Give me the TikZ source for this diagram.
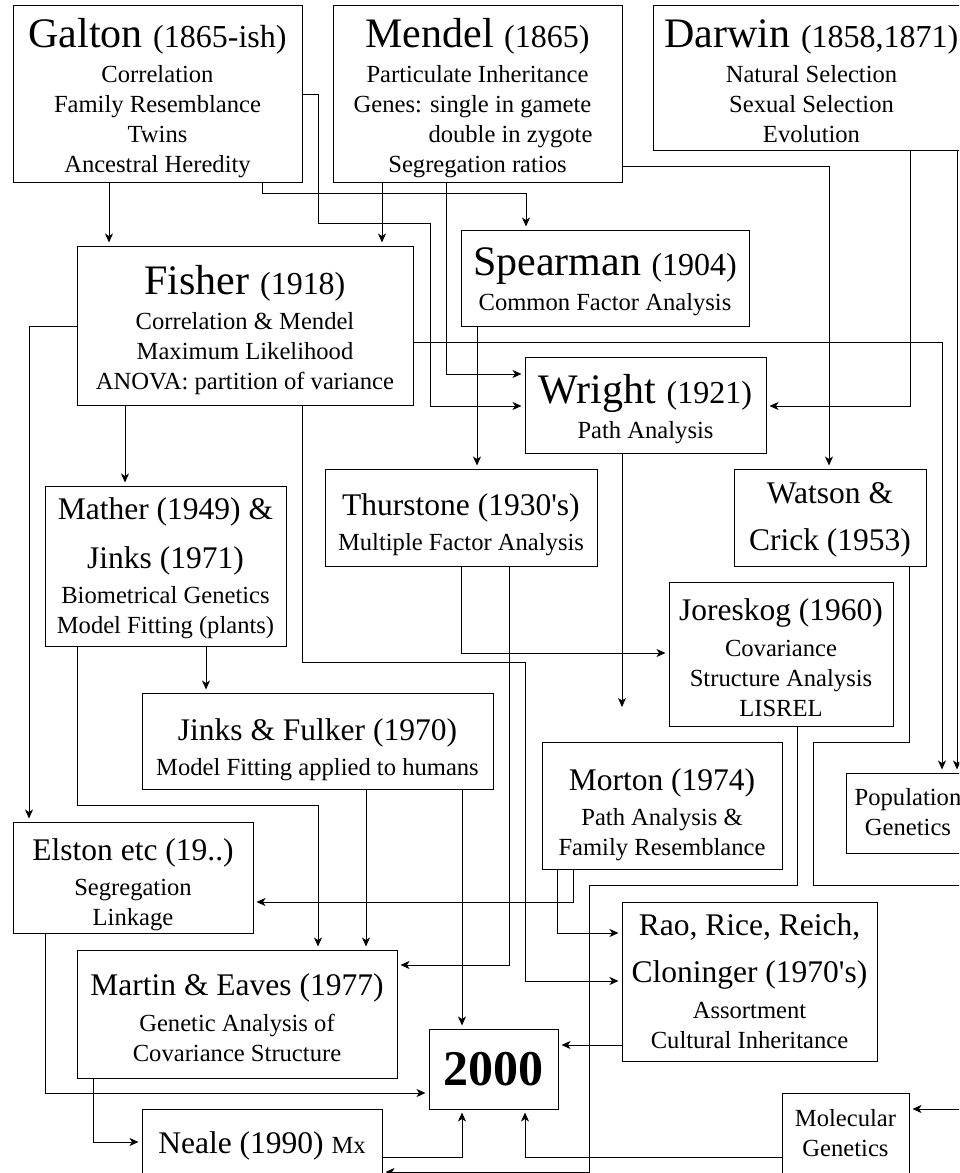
\documentclass[tikz,border=0pt]{standalone}
\usepackage{fontspec}
\setmainfont{Liberation Serif}[Ligatures=TeXOff]
\usetikzlibrary{arrows.meta,fit}
\newcommand\bigT{\fontsize{42}{42}\selectfont}
\newcommand\midT{\fontsize{31.5}{31.5}\selectfont}
\newcommand\yrT{\fontsize{32}{32}\selectfont}
\newcommand\bodyT{\fontsize{24.6}{30}\selectfont}
\newcommand\sk[1]{\noalign{\vskip#1}}
\newcommand\stk[1]{\vtop{\baselineskip=30pt\lineskip=0pt\lineskiplimit=-1000pt\halign{\hfil\bodyT##\hfil\cr#1\crcr}}}
\tikzset{
  box/.style={draw, line width=1pt, inner sep=0pt},
  txt/.style={inner sep=0pt, anchor=base},
  arr/.style={line width=1pt, -{Stealth[length=9pt,width=8pt,inset=2.5pt]}, shorten >=3pt}
}
\begin{document}
\begin{tikzpicture}[x=1pt,y=-1pt]
\useasboundingbox (0,0) rectangle (959,1173);
\fill[white] (0,0) rectangle (959,1173);
\clip (0,0) rectangle (959,1173);
% boxes
\node[box, fit={(13,5)(302,182)}] (galton) {};
\node[box, fit={(333,5)(622,182)}] (mendel) {};
\node[box, fit={(653,5)(970,150)}] (darwin) {};
\node[box, fit={(77,246)(413,405)}] (fisher) {};
\node[box, fit={(461,230)(749,326)}] (spearman) {};
\node[box, fit={(525,357)(766,453)}] (wright) {};
\node[box, fit={(325,469)(597,566)}] (thurstone) {};
\node[box, fit={(734,469)(926,566)}] (watson) {};
\node[box, fit={(45,486)(286,646)}] (mather) {};
\node[box, fit={(669,582)(893,726)}] (joreskog) {};
\node[box, fit={(142,693)(493,789)}] (jinks) {};
\node[box, fit={(542,742)(782,869)}] (morton) {};
\node[box, fit={(846,773)(970,853)}] (popgen) {};
\node[box, fit={(13,822)(253,933)}] (elston) {};
\node[box, fit={(77,950)(397,1078)}] (martin) {};
\node[box, fit={(622,902)(877,1061)}] (rao) {};
\node[box, fit={(429,1029)(558,1109)}] (yr2000) {};
\node[box, fit={(142,1109)(382,1200)}] (neale) {};
\node[box, fit={(782,1093)(909,1200)}] (molgen) {};
% texts
\node[txt] (galtonT) at (157.5,47) {\stk{\bigT Galton \yrT(1865-ish)\cr\sk{5pt} Correlation\cr Family Resemblance\cr Twins\cr Ancestral Heredity}};
\node[txt] (mendelT) at (477.5,47) {\stk{\bigT Mendel \yrT(1865)\cr\sk{5pt} Particulate Inheritance\cr Genes: single in gamete\hspace*{10pt}\cr \hspace*{66pt}double in zygote\cr Segregation ratios}};
\node[txt] (darwinT) at (811.5,47) {\stk{\bigT Darwin \yrT(1858,1871)\cr\sk{5pt} Natural Selection\cr Sexual Selection\cr Evolution}};
\node[txt] (fisherT) at (245,294) {\stk{\bigT Fisher \yrT(1918)\cr\sk{5pt} Correlation \& Mendel\cr Maximum Likelihood\cr ANOVA: partition of variance}};
\node[txt] (spearmanT) at (605,275) {\stk{\bigT Spearman \yrT(1904)\cr\sk{5pt} Common Factor Analysis}};
\node[txt] (wrightT) at (645.5,403) {\stk{\bigT Wright \yrT(1921)\cr\sk{5pt} Path Analysis}};
\node[txt] (thurstoneT) at (461,515) {\stk{\midT Thurstone (1930's)\cr\sk{5pt} Multiple Factor Analysis}};
\node[txt] (watsonT) at (830,503) {\stk{\midT Watson \&\cr\sk{17pt}\midT Crick (1953)}};
\node[txt] (matherT) at (165.5,519) {\stk{\midT Mather (1949) \&\cr\sk{19pt}\midT Jinks (1971)\cr\sk{5pt} Biometrical Genetics\cr Model Fitting (plants)}};
\node[txt] (joreskogT) at (781,620) {\stk{\midT Joreskog (1960)\cr\sk{6pt} Covariance\cr Structure Analysis\cr LISREL}};
\node[txt] (jinksT) at (317.5,740) {\stk{\midT Jinks \& Fulker (1970)\cr\sk{5pt} Model Fitting applied to humans}};
\node[txt] (mortonT) at (662,790) {\stk{\midT Morton (1974)\cr\sk{5pt} Path Analysis \&\cr Family Resemblance}};
\node[txt] (popgenT) at (908,805) {\stk{Population\cr Genetics}};
\node[txt] (elstonT) at (133,860) {\stk{\midT Elston etc (19..)\cr\sk{5pt} Segregation\cr Linkage}};
\node[txt] (martinT) at (237,995) {\stk{\midT Martin \& Eaves (1977)\cr\sk{6pt} Genetic Analysis of\cr Covariance Structure}};
\node[txt] (raoT) at (749.5,935) {\stk{\midT Rao, Rice, Reich,\cr\sk{17pt}\midT Cloninger (1970's)\cr\sk{6pt} Assortment\cr Cultural Inheritance}};
\node[txt] (yr2000T) at (493.5,1085) {\fontsize{50}{50}\selectfont\bfseries 2000};
\node[txt] (nealeT) at (262,1153) {\midT Neale (1990) \bodyT Mx};
\node[txt] (molgenT) at (845.5,1126) {\stk{Molecular\cr Genetics}};
% connectors
\draw[arr] (galton.south -| 109,0) -- (fisher.north -| 109,0);
\draw[arr] (galton.east |- 0,94) -- (318,94) -- (318,223) -- (430,223) -- (430,406) -- (wright.west |- 0,406);
\draw[arr] (galton.south -| 262,0) -- (262,193) -- (526,193) -- (spearman.north -| 526,0);
\draw[arr] (mendel.south -| 382,0) -- (fisher.north -| 382,0);
\draw[arr] (mendel.south -| 446,0) -- (446,374) -- (wright.west |- 0,374);
\draw[arr] (mendel.east |- 0,166) -- (829,166) -- (watson.north -| 829,0);
\draw[arr] (darwin.south -| 910,0) -- (910,406) -- (wright.east |- 0,406);
\draw[arr] (darwin.south -| 957,0) -- (popgen.north -| 957,0);
\draw[arr] (fisher.east |- 0,342) -- (942,342) -- (popgen.north -| 942,0);
\draw[arr] (spearman.south -| 477,0) -- (thurstone.north -| 477,0);
\draw[arr] (fisher.west |- 0,326) -- (29,326) -- (elston.north -| 29,0);
\draw[arr] (fisher.south -| 125,0) -- (mather.north -| 125,0);
\draw[arr] (fisher.south -| 302,0) -- (302,662) -- (525,662) -- (525,981) -- (rao.west |- 0,981);
\draw[arr] (thurstone.south -| 509,0) -- (509,965) -- (martin.east |- 0,965);
\draw[arr] (thurstone.south -| 461,0) -- (461,653) -- (joreskog.west |- 0,653);
\coordinate (wrightend) at (622,707);
\draw[arr, shorten >=0pt] (wright.south -| 622,0) -- (wrightend);
\draw[arr] (mather.south -| 77,0) -- (77,805) -- (318,805) -- (martin.north -| 318,0);
\draw[arr] (mather.south -| 206,0) -- (jinks.north -| 206,0);
\draw[arr] (jinks.south -| 366,0) -- (martin.north -| 366,0);
\draw[arr] (jinks.south -| 462,0) -- (yr2000.north -| 462,0);
\draw[arr] (elston.south -| 45,0) -- (45,1093) -- (yr2000.west |- 0,1093);
\draw[arr] (martin.south -| 93,0) -- (93,1142) -- (neale.west |- 0,1142);
\draw[arr] (neale.east |- 0,1157) -- (462,1157) -- (yr2000.south -| 462,0);
\draw[arr] (joreskog.south -| 797,0) -- (797,885) -- (589,885) -- (589,1172) -- (neale.east |- 0,1172);
\draw[arr] (watson.south -| 909,0) -- (909,742) -- (813,742) -- (813,885) -- (970,885) -- (970,1109) -- (molgen.east |- 0,1109);
\draw[arr] (molgen.west |- 0,1157) -- (525,1157) -- (yr2000.south -| 525,0);
\draw[arr] (rao.west |- 0,1045) -- (yr2000.east |- 0,1045);
\draw[arr] (morton.south -| 573,0) -- (573,902) -- (elston.east |- 0,902);
\draw[arr] (morton.south -| 557,0) -- (557,933) -- (rao.west |- 0,933);
\end{tikzpicture}
\end{document}
